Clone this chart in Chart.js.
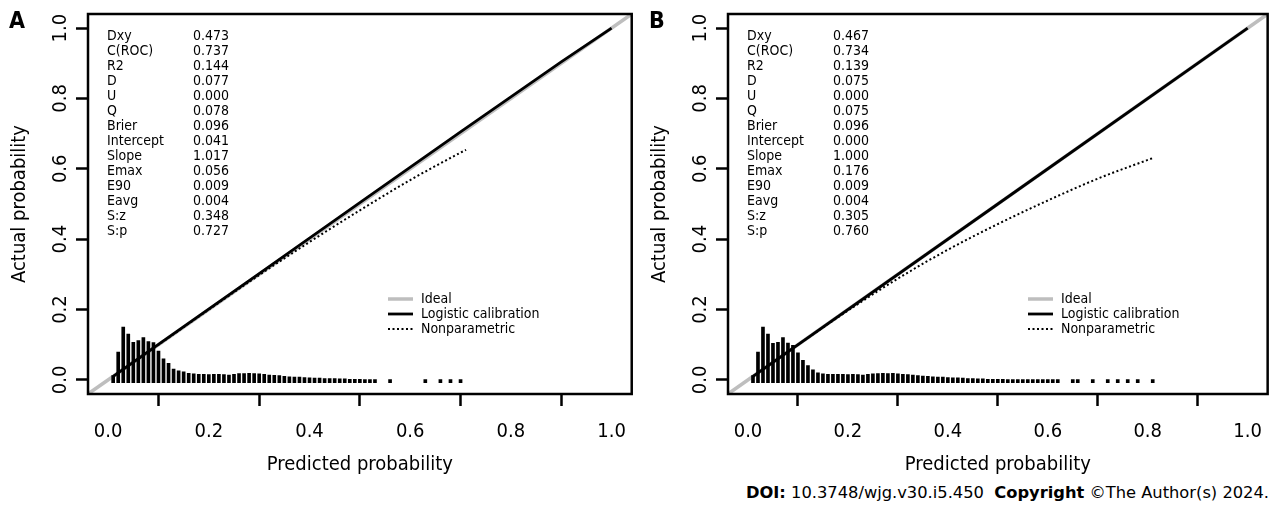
<!DOCTYPE html>
<html>
<head>
<meta charset="utf-8">
<script src="https://cdn.jsdelivr.net/npm/chart.js@4.4.1/dist/chart.umd.min.js"></script>
<style>
body { margin: 0; background: #fff; width: 1276px; height: 506px; overflow: hidden; position: relative; }
#wrapA { position: absolute; left: 0; top: 0; }
#wrapB { position: absolute; left: 640px; top: 0; }
.doi { position: absolute; right: 7px; top: 483px; font: 16.3px 'DejaVu Sans', sans-serif; white-space: nowrap; color: #000; }
</style>
</head>
<body>
<div id="wrapA"><canvas id="chartA" width="640" height="480"></canvas></div>
<div id="wrapB"><canvas id="chartB" width="636" height="480"></canvas></div>
<div class="doi"><b>DOI:</b> 10.3748/wjg.v30.i5.450&nbsp;&nbsp;<b>Copyright</b> ©The Author(s) 2024.</div>
<script>
var FONT = "'DejaVu Sans Condensed', 'DejaVu Sans', sans-serif";

// axis ticks
var axisTicks = [0, 0.2, 0.4, 0.6, 0.8, 1.0];

// stats printed in the top left corner
var statNames = ['Dxy', 'C(ROC)', 'R2', 'D', 'U', 'Q', 'Brier', 'Intercept', 'Slope', 'Emax', 'E90', 'Eavg', 'S:z', 'S:p'];
var statsA = ['0.473', '0.737', '0.144', '0.077', '0.000', '0.078', '0.096', '0.041', '1.017', '0.056', '0.009', '0.004', '0.348', '0.727'];
var statsB = ['0.467', '0.734', '0.139', '0.075', '0.000', '0.075', '0.096', '0.000', '1.000', '0.176', '0.009', '0.004', '0.305', '0.760'];

// ideal line covers the whole plot
var idealX = [-0.04, 1.04];
var idealY = [-0.04, 1.04];

// logistic calibration
var logisticXA = [0.01, 0.1, 0.3, 0.5, 0.7, 0.9, 1.0];
var logisticYA = [0.0102, 0.1008, 0.302, 0.504, 0.705, 0.904, 1.0];
var logisticXB = [0.01, 0.5, 1.0];
var logisticYB = [0.01, 0.5, 1.0];

// nonparametric (dotted)
var nonparXA = [0.01, 0.1, 0.2, 0.3, 0.4, 0.5, 0.6, 0.7, 0.711];
var nonparYA = [0.01, 0.1, 0.2, 0.298, 0.392, 0.482, 0.568, 0.646, 0.654];
var nonparXB = [0.01, 0.1, 0.2, 0.3, 0.4, 0.5, 0.6, 0.7, 0.811];
var nonparYB = [0.01, 0.1, 0.197, 0.288, 0.37, 0.443, 0.51, 0.572, 0.631];

// risk distribution spikes
var histXA = [0.01, 0.02, 0.03, 0.04, 0.05, 0.06, 0.07, 0.08, 0.09, 0.10,
  0.11, 0.12, 0.13, 0.14, 0.15, 0.16, 0.17, 0.18, 0.19, 0.20,
  0.21, 0.22, 0.23, 0.24, 0.25, 0.26, 0.27, 0.28, 0.29, 0.30,
  0.31, 0.32, 0.33, 0.34, 0.35, 0.36, 0.37, 0.38, 0.39, 0.40,
  0.41, 0.42, 0.43, 0.44, 0.45, 0.46, 0.47, 0.48, 0.49, 0.50,
  0.51, 0.52, 0.53, 0.56, 0.63, 0.66, 0.68, 0.70];
var histA = [0.012, 0.079, 0.150, 0.130, 0.107, 0.112, 0.120, 0.109, 0.106, 0.082,
  0.060, 0.047, 0.031, 0.026, 0.023, 0.019, 0.017, 0.016, 0.016, 0.015,
  0.016, 0.016, 0.015, 0.014, 0.016, 0.018, 0.018, 0.019, 0.018, 0.017,
  0.016, 0.014, 0.013, 0.012, 0.010, 0.009, 0.008, 0.008, 0.007, 0.006,
  0.005, 0.005, 0.004, 0.004, 0.004, 0.003, 0.003, 0.002, 0.002, 0.002,
  0.001, 0.001, 0.001, 0.001, 0.001, 0.001, 0.001, 0.001];
var histXB = [0.01, 0.02, 0.03, 0.04, 0.05, 0.06, 0.07, 0.08, 0.09, 0.10,
  0.11, 0.12, 0.13, 0.14, 0.15, 0.16, 0.17, 0.18, 0.19, 0.20,
  0.21, 0.22, 0.23, 0.24, 0.25, 0.26, 0.27, 0.28, 0.29, 0.30,
  0.31, 0.32, 0.33, 0.34, 0.35, 0.36, 0.37, 0.38, 0.39, 0.40,
  0.41, 0.42, 0.43, 0.44, 0.45, 0.46, 0.47, 0.48, 0.49, 0.50,
  0.51, 0.52, 0.53, 0.54, 0.55, 0.56, 0.57, 0.58, 0.59, 0.60,
  0.61, 0.62, 0.65, 0.66, 0.69, 0.72, 0.74, 0.76, 0.78, 0.81];
var histB = [0.012, 0.079, 0.150, 0.130, 0.104, 0.107, 0.120, 0.105, 0.098, 0.077,
  0.056, 0.041, 0.029, 0.020, 0.017, 0.016, 0.016, 0.016, 0.016, 0.015,
  0.016, 0.015, 0.014, 0.016, 0.017, 0.018, 0.019, 0.018, 0.019, 0.017,
  0.016, 0.015, 0.014, 0.012, 0.011, 0.010, 0.009, 0.008, 0.008, 0.007,
  0.006, 0.006, 0.005, 0.004, 0.004, 0.003, 0.003, 0.002, 0.002, 0.002,
  0.002, 0.001, 0.001, 0.001, 0.001, 0.001, 0.001, 0.001, 0.001, 0.001,
  0.001, 0.001, 0.001, 0.001, 0.001, 0.001, 0.001, 0.001, 0.001, 0.001];

var legendLabels = ['Ideal', 'Logistic calibration', 'Nonparametric'];

function pts(xs, ys) {
  return xs.map(function (x, i) { return { x: x, y: ys[i] }; });
}

// box round the plot, stats text, legend and panel letter
var panelPlugin = {
  id: 'panel',
  afterDraw: function (chart, args, opts) {
    var a = chart.chartArea, ctx = chart.ctx;
    ctx.save();
    ctx.strokeStyle = '#000';
    ctx.lineWidth = 2.5;
    ctx.strokeRect(a.left, a.top, a.right - a.left, a.bottom - a.top);

    ctx.fillStyle = '#000';
    ctx.font = '14px ' + FONT;
    ctx.textBaseline = 'middle';
    statNames.forEach(function (n, i) {
      var y = a.top + 22 + i * 15;
      ctx.fillText(n, a.left + 19, y);
      ctx.fillText(opts.values[i], a.left + 105, y);
    });

    chart.data.datasets.slice(0, 3).forEach(function (ds, i) {
      var y = a.top + 285 + i * 15;
      ctx.strokeStyle = ds.borderColor;
      ctx.lineWidth = ds.borderWidth;
      ctx.setLineDash(ds.borderDash || []);
      ctx.beginPath();
      ctx.moveTo(a.left + 300, y);
      ctx.lineTo(a.left + 325, y);
      ctx.stroke();
      ctx.setLineDash([]);
      ctx.fillText(ds.label, a.left + 333, y);
    });

    ctx.font = 'bold 23px ' + FONT;
    ctx.fillText(opts.letter, 9, 22);
    ctx.restore();
  }
};

function makeChart(id, letter, stats, logX, logY, npX, npY, hX, hY, padRight) {
  var axisFont = { family: FONT, size: 20 };
  return new Chart(document.getElementById(id), {
    type: 'scatter',
    data: {
      datasets: [
        { type: 'line', label: legendLabels[0], data: pts(idealX, idealY), borderColor: '#bebebe', borderWidth: 3.5, pointRadius: 0, order: 4 },
        { type: 'line', label: legendLabels[1], data: pts(logX, logY), borderColor: '#000', borderWidth: 2.8, pointRadius: 0, order: 1 },
        { type: 'line', label: legendLabels[2], data: pts(npX, npY), borderColor: '#000', borderWidth: 2, borderDash: [2, 2.5], pointRadius: 0, cubicInterpolationMode: 'monotone', order: 2 },
        { type: 'bar', label: 'hist', data: pts(hX, hY), backgroundColor: '#000', barThickness: 3, base: -0.008, minBarLength: 2, grouped: false, order: 3 }
      ]
    },
    options: {
      responsive: false,
      animation: false,
      devicePixelRatio: 1,
      layout: { padding: { top: 14, right: padRight, left: 0, bottom: 0 } },
      plugins: {
        legend: { display: false },
        tooltip: { enabled: false },
        panel: { letter: letter, values: stats }
      },
      scales: {
        x: {
          type: 'linear', min: -0.04, max: 1.04, offset: false,
          afterBuildTicks: function (s) { s.ticks = axisTicks.map(function (v) { return { value: v }; }); },
          afterFit: function (s) { s.height = 86; },
          grid: { drawOnChartArea: false, drawTicks: true, tickLength: 12, tickColor: '#000', tickWidth: 2.5 },
          border: { display: false },
          ticks: { color: '#000', font: axisFont, padding: 14, maxRotation: 0, callback: function (v) { return v.toFixed(1); } },
          title: { display: true, text: 'Predicted probability', color: '#000', font: axisFont, padding: { bottom: 3 } }
        },
        y: {
          type: 'linear', min: -0.04, max: 1.04,
          afterBuildTicks: function (s) { s.ticks = axisTicks.map(function (v) { return { value: v }; }); },
          afterFit: function (s) { s.width = 88; },
          grid: { drawOnChartArea: false, drawTicks: true, tickLength: 12, tickColor: '#000', tickWidth: 2.5 },
          border: { display: false },
          ticks: { color: '#000', font: axisFont, minRotation: 90, maxRotation: 90, crossAlign: 'center', padding: 1, callback: function (v) { return v.toFixed(1); } },
          title: { display: true, text: 'Actual probability', color: '#000', font: axisFont, padding: { top: 8 } }
        }
      }
    },
    plugins: [panelPlugin]
  });
}

makeChart('chartA', 'A', statsA, logisticXA, logisticYA, nonparXA, nonparYA, histXA, histA, 3);
makeChart('chartB', 'B', statsB, logisticXB, logisticYB, nonparXB, nonparYB, histXB, histB, 1);
</script>
</body>
</html>
